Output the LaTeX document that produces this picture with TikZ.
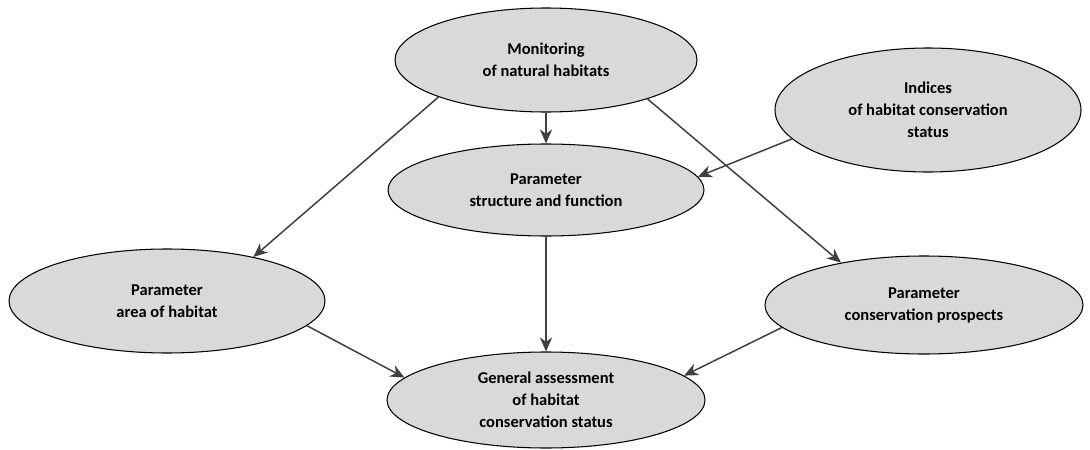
\documentclass[tikz,border=0pt]{standalone}
\usepackage{fontspec}
\setmainfont{Carlito}
\usepackage{tikz}
\usetikzlibrary{shapes.geometric}
\usetikzlibrary{arrows.meta}
\definecolor{ovalgray}{HTML}{D9D9D9}
\definecolor{linkgray}{HTML}{404040}
\tikzset{
  oval/.style={ellipse,draw=black,line width=0.6pt,fill=ovalgray,inner sep=0pt,
    align=center,font=\bfseries\fontsize{9.4}{12.5}\selectfont},
  link/.style={draw=linkgray,line width=0.85pt,-{Stealth[length=8pt,width=7pt,inset=2.5pt]}}
}

\begin{document}
\begin{tikzpicture}[x=0.02cm,y=-0.02cm]
  \useasboundingbox (0,0) rectangle (1090,450);

  \node[oval,minimum width=302*0.02cm,minimum height=104*0.02cm] (mon) at (546,60) {Monitoring\\of natural habitats};
  \node[oval,minimum width=306*0.02cm,minimum height=124*0.02cm] (ind) at (928,110) {Indices\\of habitat conservation\\status};
  \node[oval,minimum width=316*0.02cm,minimum height=92*0.02cm] (struc) at (546,190) {Parameter\\structure and function};
  \node[oval,minimum width=316*0.02cm,minimum height=104*0.02cm] (area) at (167,301) {Parameter\\area of habitat};
  \node[oval,minimum width=318*0.02cm,minimum height=98*0.02cm] (prosp) at (924,305) {Parameter\\conservation prospects};
  \node[oval,minimum width=318*0.02cm,minimum height=96*0.02cm] (gen) at (546,400) {General assessment\\of habitat\\conservation status};

  \draw[link] (mon.199) -- (area.27);
  \draw[link] (mon.south) -- (struc.north);
  \draw[link] (mon.339) -- (prosp.153);
  \draw[link] (ind.192) -- (struc.5);
  \draw[link] (struc.south) -- (gen.north);
  \draw[link] (area.350) -- (gen.171);
  \draw[link] (prosp.189) -- (gen.10);
\end{tikzpicture}
\end{document}
